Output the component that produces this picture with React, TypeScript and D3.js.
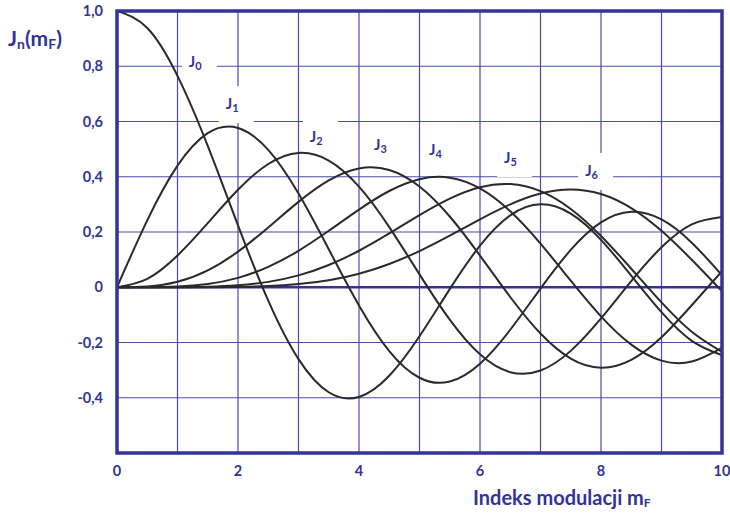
import React from "react";
import * as d3 from "d3";

// Modulation index samples (step 0.5)
const mF = [0, 0.5, 1, 1.5, 2, 2.5, 3, 3.5, 4, 4.5, 5, 5.5, 6, 6.5, 7, 7.5, 8, 8.5, 9, 9.5, 10];

// Bessel function values J_n(mF) at the samples above
const J0 = [1, 0.9385, 0.7652, 0.5118, 0.2239, -0.0484, -0.2601, -0.3801, -0.3971, -0.3205, -0.1776, -0.0068, 0.1506, 0.2601, 0.3001, 0.2663, 0.1717, 0.0419, -0.0903, -0.1939, -0.2459];
const J1 = [0, 0.2423, 0.4401, 0.5579, 0.5767, 0.4971, 0.3391, 0.1374, -0.066, -0.2311, -0.3276, -0.3414, -0.2767, -0.1538, -0.0047, 0.1352, 0.2346, 0.2731, 0.2453, 0.1613, 0.0435];
const J2 = [0, 0.0306, 0.1149, 0.2321, 0.3528, 0.4461, 0.4861, 0.4586, 0.3641, 0.2178, 0.0466, -0.1173, -0.2429, -0.3074, -0.3014, -0.2303, -0.113, 0.0223, 0.1448, 0.2279, 0.2546];
const J3 = [0, 0.0026, 0.0196, 0.061, 0.1289, 0.2167, 0.3091, 0.3868, 0.4302, 0.4247, 0.3648, 0.2561, 0.1148, -0.0353, -0.1676, -0.2581, -0.2911, -0.2626, -0.1809, -0.0653, 0.0584];
const J4 = [0, 0.0002, 0.0025, 0.0118, 0.034, 0.0738, 0.132, 0.2044, 0.2811, 0.3484, 0.3912, 0.3967, 0.3576, 0.2748, 0.1578, 0.0238, -0.1054, -0.2077, -0.2655, -0.2691, -0.2196];
const J5 = [0, 0, 0.0002, 0.0018, 0.007, 0.0195, 0.043, 0.0804, 0.1321, 0.1947, 0.2611, 0.3209, 0.3621, 0.3736, 0.3479, 0.2835, 0.1858, 0.0671, -0.055, -0.1613, -0.2341];
const J6 = [0, 0, 0, 0.0002, 0.0012, 0.0041, 0.0114, 0.0253, 0.0491, 0.0843, 0.131, 0.1868, 0.2458, 0.3, 0.3392, 0.3542, 0.3376, 0.2866, 0.2043, 0.0993, -0.0145];

const series = [J0, J1, J2, J3, J4, J5, J6];
const orders = ["0", "1", "2", "3", "4", "5", "6"];

const yTicks = [1.0, 0.8, 0.6, 0.4, 0.2, 0, -0.2, -0.4];
const yTickLabels = ["1,0", "0,8", "0,6", "0,4", "0,2", "0", "-0,2", "-0,4"];
const xTicks = [0, 2, 4, 6, 8, 10];
const xTickLabels = ["0", "2", "4", "6", "8", "10"];

// Where each J_n label sits, in data coordinates
const labelAnchors: [number, number][] = [
  [1.32, 0.816],
  [1.93, 0.663],
  [3.32, 0.544],
  [4.38, 0.515],
  [5.29, 0.497],
  [6.53, 0.468],
  [7.87, 0.421],
];

const W = 730;
const H = 513;
const left = 117;
const right = 722;
const top = 11;
const bottom = 453;

const BLUE = "#333399";
const GRID = "#4b4bab";
const FONT = "Lato, 'Open Sans', sans-serif";

export default function App() {
  const x = d3.scaleLinear().domain([0, 10]).range([left, right]);
  const y = d3.scaleLinear().domain([-0.6, 1.0]).range([bottom, top]);

  const line = d3
    .line<number>()
    .x((_, i) => x(mF[i]))
    .y((d) => y(d))
    .curve(d3.curveNatural);

  const xGrid = d3.range(1, 10);
  const yGrid = [0.8, 0.6, 0.4, 0.2, -0.2, -0.4];

  return (
    <svg
      width={W}
      height={H}
      style={{ position: "absolute", left: 0, top: 0, background: "#fff" }}
      fontFamily={FONT}
    >
      <defs>
        <clipPath id="plot">
          <rect x={left} y={top} width={right - left} height={bottom - top} />
        </clipPath>
      </defs>

      {/* grid */}
      <g stroke={GRID} strokeWidth={1.2}>
        {xGrid.map((v) => (
          <line key={"gx" + v} x1={x(v)} x2={x(v)} y1={top} y2={bottom} />
        ))}
        {yGrid.map((v) => (
          <line key={"gy" + v} x1={left} x2={right} y1={y(v)} y2={y(v)} />
        ))}
      </g>
      <line x1={left} x2={right} y1={y(0)} y2={y(0)} stroke={BLUE} strokeWidth={2.5} />

      {/* white patches behind the curve labels */}
      <g fill="#fff">
        {labelAnchors.map(([lx, ly], i) => (
          <rect key={"bg" + i} x={x(lx) - 15} y={y(ly) - 18} width={35} height={37} />
        ))}
      </g>

      {/* Bessel curves */}
      <g clipPath="url(#plot)" fill="none" stroke="#2a2a2a" strokeWidth={2} strokeLinejoin="round">
        {series.map((s, i) => (
          <path key={"s" + i} d={line(s) ?? ""} />
        ))}
      </g>

      {/* curve labels */}
      <g fill={BLUE} fontWeight="bold" fontSize={15}>
        {labelAnchors.map(([lx, ly], i) => (
          <text key={"lb" + i} x={x(lx) - 8} y={y(ly) + 5}>
            J
            <tspan fontSize={11} dy={3}>
              {orders[i]}
            </tspan>
          </text>
        ))}
      </g>

      {/* frame */}
      <rect
        x={left}
        y={top}
        width={right - left}
        height={bottom - top}
        fill="none"
        stroke={BLUE}
        strokeWidth={3.5}
      />

      {/* y tick labels */}
      <g fill={BLUE} fontWeight="bold" fontSize={14.5} textAnchor="end">
        {yTicks.map((v, i) => (
          <text key={"yt" + i} x={103} y={y(v) + 5}>
            {yTickLabels[i]}
          </text>
        ))}
      </g>

      {/* x tick labels */}
      <g fill={BLUE} fontWeight="bold" fontSize={14.5} textAnchor="middle">
        {xTicks.map((v, i) => (
          <text key={"xt" + i} x={x(v)} y={476}>
            {xTickLabels[i]}
          </text>
        ))}
      </g>

      {/* axis titles */}
      <text x={8} y={46} fill={BLUE} fontWeight="bold" fontSize={21}>
        J
        <tspan fontSize={14} dy={3}>n</tspan>
        <tspan fontSize={21} dy={-3}>(m</tspan>
        <tspan fontSize={14} dy={3}>F</tspan>
        <tspan fontSize={21} dy={-3}>)</tspan>
      </text>
      <text x={473} y={505} fill={BLUE} fontWeight="bold" fontSize={20}>
        Indeks modulacji m
        <tspan fontSize={12} dy={2}>F</tspan>
      </text>
    </svg>
  );
}
